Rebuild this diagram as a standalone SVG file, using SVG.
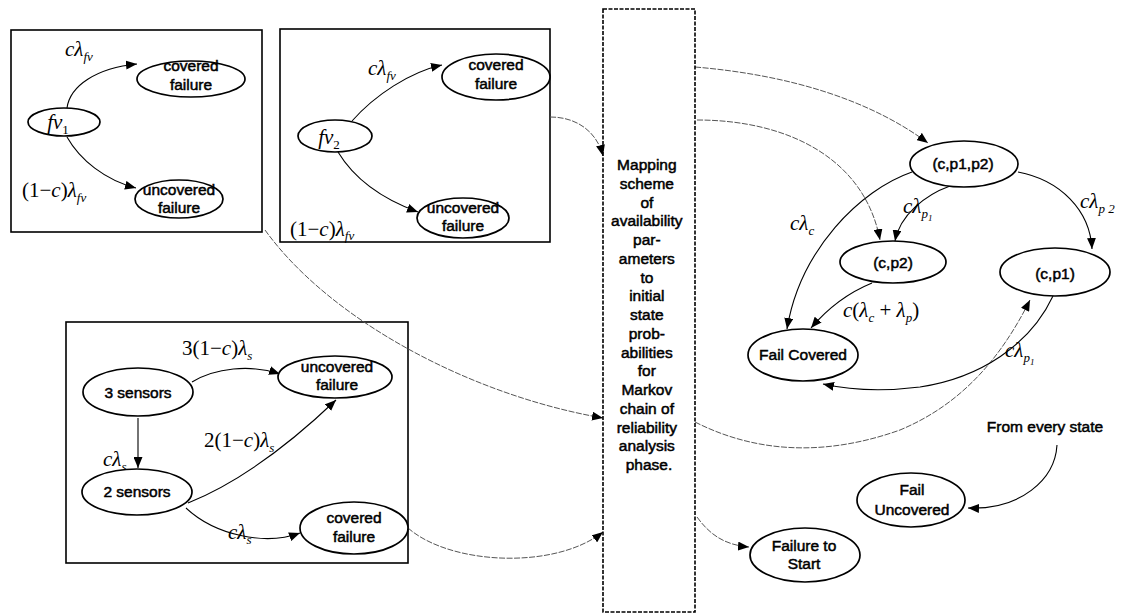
<svg xmlns="http://www.w3.org/2000/svg" width="1124" height="616" viewBox="0 0 1124 616">
  <style>
    .box { fill: none; stroke: #000; stroke-width: 1.6; }
    .map { fill: none; stroke: #000; stroke-width: 1.6; stroke-dasharray: 4 1.5; }
    .st { fill: #fff; stroke: #000; stroke-width: 1.7; }
    .n { font-family: "Liberation Sans", Arial, sans-serif; font-size: 15.5px; fill: #000; stroke: #000; stroke-width: 0.5; text-anchor: middle; }
    .m { font-family: "Liberation Serif", "Times New Roman", serif; font-size: 21px; font-style: italic; fill: #000; }
    .u { font-style: normal; }
    .sb { font-size: 13px; }
    .e { fill: none; stroke: #000; stroke-width: 1.1; marker-end: url(#ah); }
    .g { fill: none; stroke: #555; stroke-width: 1; stroke-dasharray: 6 1.5; marker-end: url(#ah); }
  </style>
  <defs>
    <marker id="ah" markerUnits="userSpaceOnUse" markerWidth="12" markerHeight="9" refX="11" refY="4.5" orient="auto">
      <path d="M0,0 L11,4.5 L0,9 z" fill="#000"/>
    </marker>
  </defs>

  <rect width="1124" height="616" fill="#fff"/>

  <!-- grouping frames -->
  <rect class="box" x="11" y="30" width="251" height="202"/>
  <rect class="box" x="280" y="29" width="270" height="213"/>
  <rect class="box" x="66" y="322" width="342" height="241"/>

  <!-- connectors -->
  <g id="connectors">
    <!-- fv1 frame -->
    <path class="e" d="M67,108 C70,86 96,68 137,64"/>
    <path class="e" d="M67,137 C80,160 105,180 136,188"/>
    <!-- fv2 frame -->
    <path class="e" d="M352,121 C375,95 410,72 442,65"/>
    <path class="e" d="M338,152 C355,180 385,200 418,212"/>
    <!-- sensors frame -->
    <path class="e" d="M192,382 C215,368 250,364 280,374"/>
    <path class="e" d="M138,418 L138,468"/>
    <path class="e" d="M188,503 C240,482 292,442 336,400"/>
    <path class="e" d="M186,508 C215,535 265,546 300,533"/>
    <!-- into mapping scheme -->
    <path class="g" d="M550,117 C580,117 598,135 603,156"/>
    <path class="g" d="M265,230 C330,320 470,395 603,418"/>
    <path class="g" d="M408,528 C450,565 555,570 603,532"/>
    <!-- out of mapping scheme -->
    <path class="g" d="M695,67 C790,75 870,100 928,143"/>
    <path class="g" d="M697,120 C790,120 865,160 880,240"/>
    <path class="g" d="M695,422 C760,455 830,455 900,430 C960,405 1000,360 1030,300"/>
    <path class="g" d="M697,517 C710,535 725,545 749,547"/>
    <!-- reliability chain -->
    <path class="e" d="M912,172 C860,190 800,250 787,329"/>
    <path class="e" d="M950,186 C925,195 900,215 895,241"/>
    <path class="e" d="M1018,172 C1060,180 1090,210 1092,249"/>
    <path class="e" d="M872,283 C850,292 828,308 811,328"/>
    <path class="e" d="M1053,296 C1030,345 980,378 920,387 C880,392 850,390 823,384"/>
    <path class="e" d="M1057,445 C1055,480 1020,510 968,508"/>
  </g>

  <!-- transition rates -->
  <g id="labels">
    <text class="m" x="65" y="56">cλ<tspan class="sb" dy="5">fv</tspan></text>
    <text class="m" x="22" y="197"><tspan class="u">(1−</tspan>c<tspan class="u">)</tspan>λ<tspan class="sb" dy="5">fv</tspan></text>
    <text class="m" x="368" y="75">cλ<tspan class="sb" dy="5">fv</tspan></text>
    <text class="m" x="290" y="236"><tspan class="u">(1−</tspan>c<tspan class="u">)</tspan>λ<tspan class="sb" dy="4">fv</tspan></text>
    <text class="m" x="182" y="355"><tspan class="u">3(1−</tspan>c<tspan class="u">)</tspan>λ<tspan class="sb" dy="5">s</tspan></text>
    <text class="m" x="204" y="447"><tspan class="u">2(1−</tspan>c<tspan class="u">)</tspan>λ<tspan class="sb" dy="5">s</tspan></text>
    <text class="m" x="103" y="466">cλ<tspan class="sb" dy="5">s</tspan></text>
    <text class="m" x="228" y="539">cλ<tspan class="sb" dy="5">s</tspan></text>
    <text class="m" x="790" y="230">cλ<tspan class="sb" dy="5">c</tspan></text>
    <text class="m" x="903" y="213">cλ<tspan class="sb" dy="5">p<tspan font-size="9" dy="3">1</tspan></tspan></text>
    <text class="m" x="1080" y="208">cλ<tspan class="sb" dy="5">p 2</tspan></text>
    <text class="m" x="843" y="317">c<tspan class="u">(</tspan>λ<tspan class="sb" dy="5">c</tspan><tspan class="u" dy="-5"> + </tspan>λ<tspan class="sb" dy="5">p</tspan><tspan class="u" dy="-5">)</tspan></text>
    <text class="m" x="1005" y="357">cλ<tspan class="sb" dy="5">p<tspan font-size="9" dy="3">1</tspan></tspan></text>
    <text class="n" x="1045" y="432">From every state</text>
  </g>

  <!-- availability: fv1 -->
  <g id="fv1">
    <ellipse class="st" cx="64" cy="122" rx="36" ry="14"/>
    <text class="m" x="58" y="129" text-anchor="middle" font-size="23">fv<tspan class="sb u" dy="5">1</tspan></text>
  </g>
  <g id="fv1-covered">
    <ellipse class="st" cx="191" cy="79" rx="54" ry="18"/>
    <text class="n" x="191" y="71">covered</text>
    <text class="n" x="191" y="90">failure</text>
  </g>
  <g id="fv1-uncovered">
    <ellipse class="st" cx="179" cy="199" rx="44" ry="19"/>
    <text class="n" x="179" y="195">uncovered</text>
    <text class="n" x="179" y="213">failure</text>
  </g>

  <!-- availability: fv2 -->
  <g id="fv2">
    <ellipse class="st" cx="335" cy="136" rx="37" ry="16"/>
    <text class="m" x="329" y="144" text-anchor="middle" font-size="23">fv<tspan class="sb u" dy="5">2</tspan></text>
  </g>
  <g id="fv2-covered">
    <ellipse class="st" cx="496" cy="77" rx="54" ry="23"/>
    <text class="n" x="496" y="70">covered</text>
    <text class="n" x="496" y="89">failure</text>
  </g>
  <g id="fv2-uncovered">
    <ellipse class="st" cx="463" cy="218" rx="46" ry="20"/>
    <text class="n" x="463" y="213">uncovered</text>
    <text class="n" x="463" y="231">failure</text>
  </g>

  <!-- availability: sensors -->
  <g id="sensors3">
    <ellipse class="st" cx="138" cy="392" rx="55" ry="24"/>
    <text class="n" x="138" y="398">3 sensors</text>
  </g>
  <g id="sensors-uncovered">
    <ellipse class="st" cx="335" cy="377" rx="57" ry="21"/>
    <text class="n" x="337" y="372">uncovered</text>
    <text class="n" x="337" y="390">failure</text>
  </g>
  <g id="sensors2">
    <ellipse class="st" cx="137" cy="492" rx="55" ry="23"/>
    <text class="n" x="137" y="497">2 sensors</text>
  </g>
  <g id="sensors-covered">
    <ellipse class="st" cx="354" cy="528" rx="54" ry="26"/>
    <text class="n" x="354" y="523">covered</text>
    <text class="n" x="354" y="542">failure</text>
  </g>

  <!-- mapping scheme -->
  <g id="mapping">
    <rect class="map" x="603" y="9" width="92" height="603"/>
    <text class="n" x="649" y="170">
      <tspan x="649">Mapping</tspan>
      <tspan x="649" dy="18.75">scheme</tspan>
      <tspan x="649" dy="18.75">of</tspan>
      <tspan x="649" dy="18.75">availability</tspan>
      <tspan x="649" dy="18.75">par-</tspan>
      <tspan x="649" dy="18.75">ameters</tspan>
      <tspan x="649" dy="18.75">to</tspan>
      <tspan x="649" dy="18.75">initial</tspan>
      <tspan x="649" dy="18.75">state</tspan>
      <tspan x="649" dy="18.75">prob-</tspan>
      <tspan x="649" dy="18.75">abilities</tspan>
      <tspan x="649" dy="18.75">for</tspan>
      <tspan x="649" dy="18.75">Markov</tspan>
      <tspan x="649" dy="18.75">chain of</tspan>
      <tspan x="649" dy="18.75">reliability</tspan>
      <tspan x="649" dy="18.75">analysis</tspan>
      <tspan x="649" dy="18.75">phase.</tspan>
    </text>
  </g>

  <!-- reliability chain states -->
  <g id="cp1p2">
    <ellipse class="st" cx="964" cy="164" rx="54" ry="23"/>
    <text class="n" x="963" y="169">(c,p1,p2)</text>
  </g>
  <g id="cp2">
    <ellipse class="st" cx="893" cy="262" rx="53" ry="21"/>
    <text class="n" x="893" y="268">(c,p2)</text>
  </g>
  <g id="cp1">
    <ellipse class="st" cx="1055" cy="272" rx="55" ry="24"/>
    <text class="n" x="1055" y="279">(c,p1)</text>
  </g>
  <g id="fail-covered">
    <ellipse class="st" cx="803" cy="355" rx="55" ry="26"/>
    <text class="n" x="803" y="360">Fail Covered</text>
  </g>
  <g id="fail-uncovered">
    <ellipse class="st" cx="911" cy="500" rx="54" ry="27"/>
    <text class="n" x="912" y="495">Fail</text>
    <text class="n" x="912" y="515">Uncovered</text>
  </g>
  <g id="failure-to-start">
    <ellipse class="st" cx="805" cy="555" rx="55" ry="27"/>
    <text class="n" x="804" y="551">Failure to</text>
    <text class="n" x="804" y="569">Start</text>
  </g>
</svg>
